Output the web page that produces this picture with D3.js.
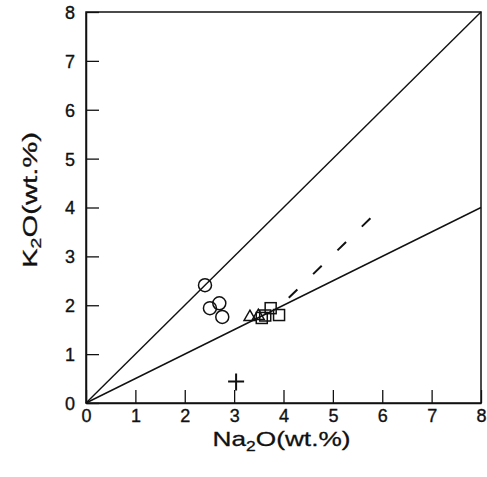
<!DOCTYPE html>
<html><head><meta charset="utf-8">
<script src="https://cdn.jsdelivr.net/npm/d3@7"></script>
<style>body{margin:0;background:#fff}svg{display:block}text{font-family:"Liberation Sans",Arial,sans-serif;fill:#111}</style>
</head><body><svg id="c" width="487" height="477"></svg>
<script>
const xTicks = [0,1,2,3,4,5,6,7,8];
const yTicks = [0,1,2,3,4,5,6,7,8];
const circlePts = [[2.41,2.41],[2.51,1.94],[2.70,2.04],[2.76,1.76]];
const trianglePts = [[3.32,1.76],[3.49,1.78]];
const squarePts = [[3.56,1.74],[3.63,1.79],[3.74,1.94],[3.91,1.80]];
const crossPts = [[3.04,0.44]];
const refLines = [[[0,0],[8,8]],[[0,0],[8,4]]];
const dashedLine = [[5.76,3.78],[3.8,1.85]];

const svg = d3.select("#c");
const L=86,T=12,R=481,B=403;
const x = d3.scaleLinear().domain([0,8]).range([L,R]);
const y = d3.scaleLinear().domain([0,8]).range([B,T]);
const ink="#111";

svg.append("rect").attr("x",L).attr("y",T).attr("width",R-L).attr("height",B-T)
  .attr("fill","none").attr("stroke",ink).attr("stroke-width",1.5);

const xa = svg.append("g").attr("transform",`translate(0,${B})`)
  .call(d3.axisBottom(x).tickValues(xTicks).tickSizeInner(-13).tickSizeOuter(0).tickPadding(17).tickFormat(d3.format("d")));
const ya = svg.append("g").attr("transform",`translate(${L},0)`)
  .call(d3.axisLeft(y).tickValues(yTicks).tickSizeInner(-13).tickSizeOuter(0).tickPadding(11).tickFormat(d3.format("d")));
[xa,ya].forEach(a=>{
  a.select(".domain").attr("stroke",ink).attr("stroke-width",1.5);
  a.selectAll(".tick line").attr("stroke",ink).attr("stroke-width",1.3);
  a.selectAll(".tick text").attr("font-size",18).attr("fill",ink)
    .attr("stroke",ink).attr("stroke-width",0.35)
    .style("font-family","Liberation Sans, Arial, sans-serif");
});
xa.selectAll(".tick text").attr("y",19).attr("dy",0);
ya.selectAll(".tick text").attr("dy","0.36em");

const line = d3.line().x(d=>x(d[0])).y(d=>y(d[1]));
refLines.forEach(l=>svg.append("path").attr("d",line(l)).attr("fill","none").attr("stroke",ink).attr("stroke-width",1.4));
svg.append("path").attr("d",line(dashedLine)).attr("fill","none").attr("stroke",ink).attr("stroke-width",2).attr("stroke-dasharray","12,22");

svg.selectAll(".circ").data(circlePts).enter().append("circle")
  .attr("cx",d=>x(d[0])).attr("cy",d=>y(d[1])).attr("r",6.5)
  .attr("fill","none").attr("stroke",ink).attr("stroke-width",1.5);
const tri = d3.symbol().type(d3.symbolTriangle).size(60);
svg.selectAll(".tri").data(trianglePts).enter().append("path")
  .attr("d",tri).attr("transform",d=>`translate(${x(d[0])},${y(d[1])})`)
  .attr("fill","none").attr("stroke",ink).attr("stroke-width",1.5);
const s=11;
svg.selectAll(".sq").data(squarePts).enter().append("rect")
  .attr("x",d=>x(d[0])-s/2).attr("y",d=>y(d[1])-s/2).attr("width",s).attr("height",s)
  .attr("fill","none").attr("stroke",ink).attr("stroke-width",1.5);
svg.selectAll(".cr").data(crossPts).enter().append("path")
  .attr("d",d=>{const cx=x(d[0]),cy=y(d[1]);return `M${cx-8},${cy}H${cx+8}M${cx},${cy-8}V${cy+9}`;})
  .attr("stroke",ink).attr("stroke-width",2);

const xt = svg.append("text").attr("x",(L+R)/2-2).attr("y",446).attr("text-anchor","middle").attr("font-size",21)
  .attr("stroke",ink).attr("stroke-width",0.3)
  .attr("textLength",138).attr("lengthAdjust","spacingAndGlyphs");
xt.append("tspan").text("Na");
xt.append("tspan").attr("font-size",14).attr("dy",5).text("2");
xt.append("tspan").attr("dy",-5).text("O(wt.%)");
const yt = svg.append("text").attr("transform",`translate(37,${200}) rotate(-90)`).attr("text-anchor","middle").attr("font-size",21)
  .attr("stroke",ink).attr("stroke-width",0.3)
  .attr("textLength",136).attr("lengthAdjust","spacingAndGlyphs");
yt.append("tspan").text("K");
yt.append("tspan").attr("font-size",14).attr("dy",4).text("2");
yt.append("tspan").attr("dy",-4).text("O(wt.%)");
</script></body></html>
